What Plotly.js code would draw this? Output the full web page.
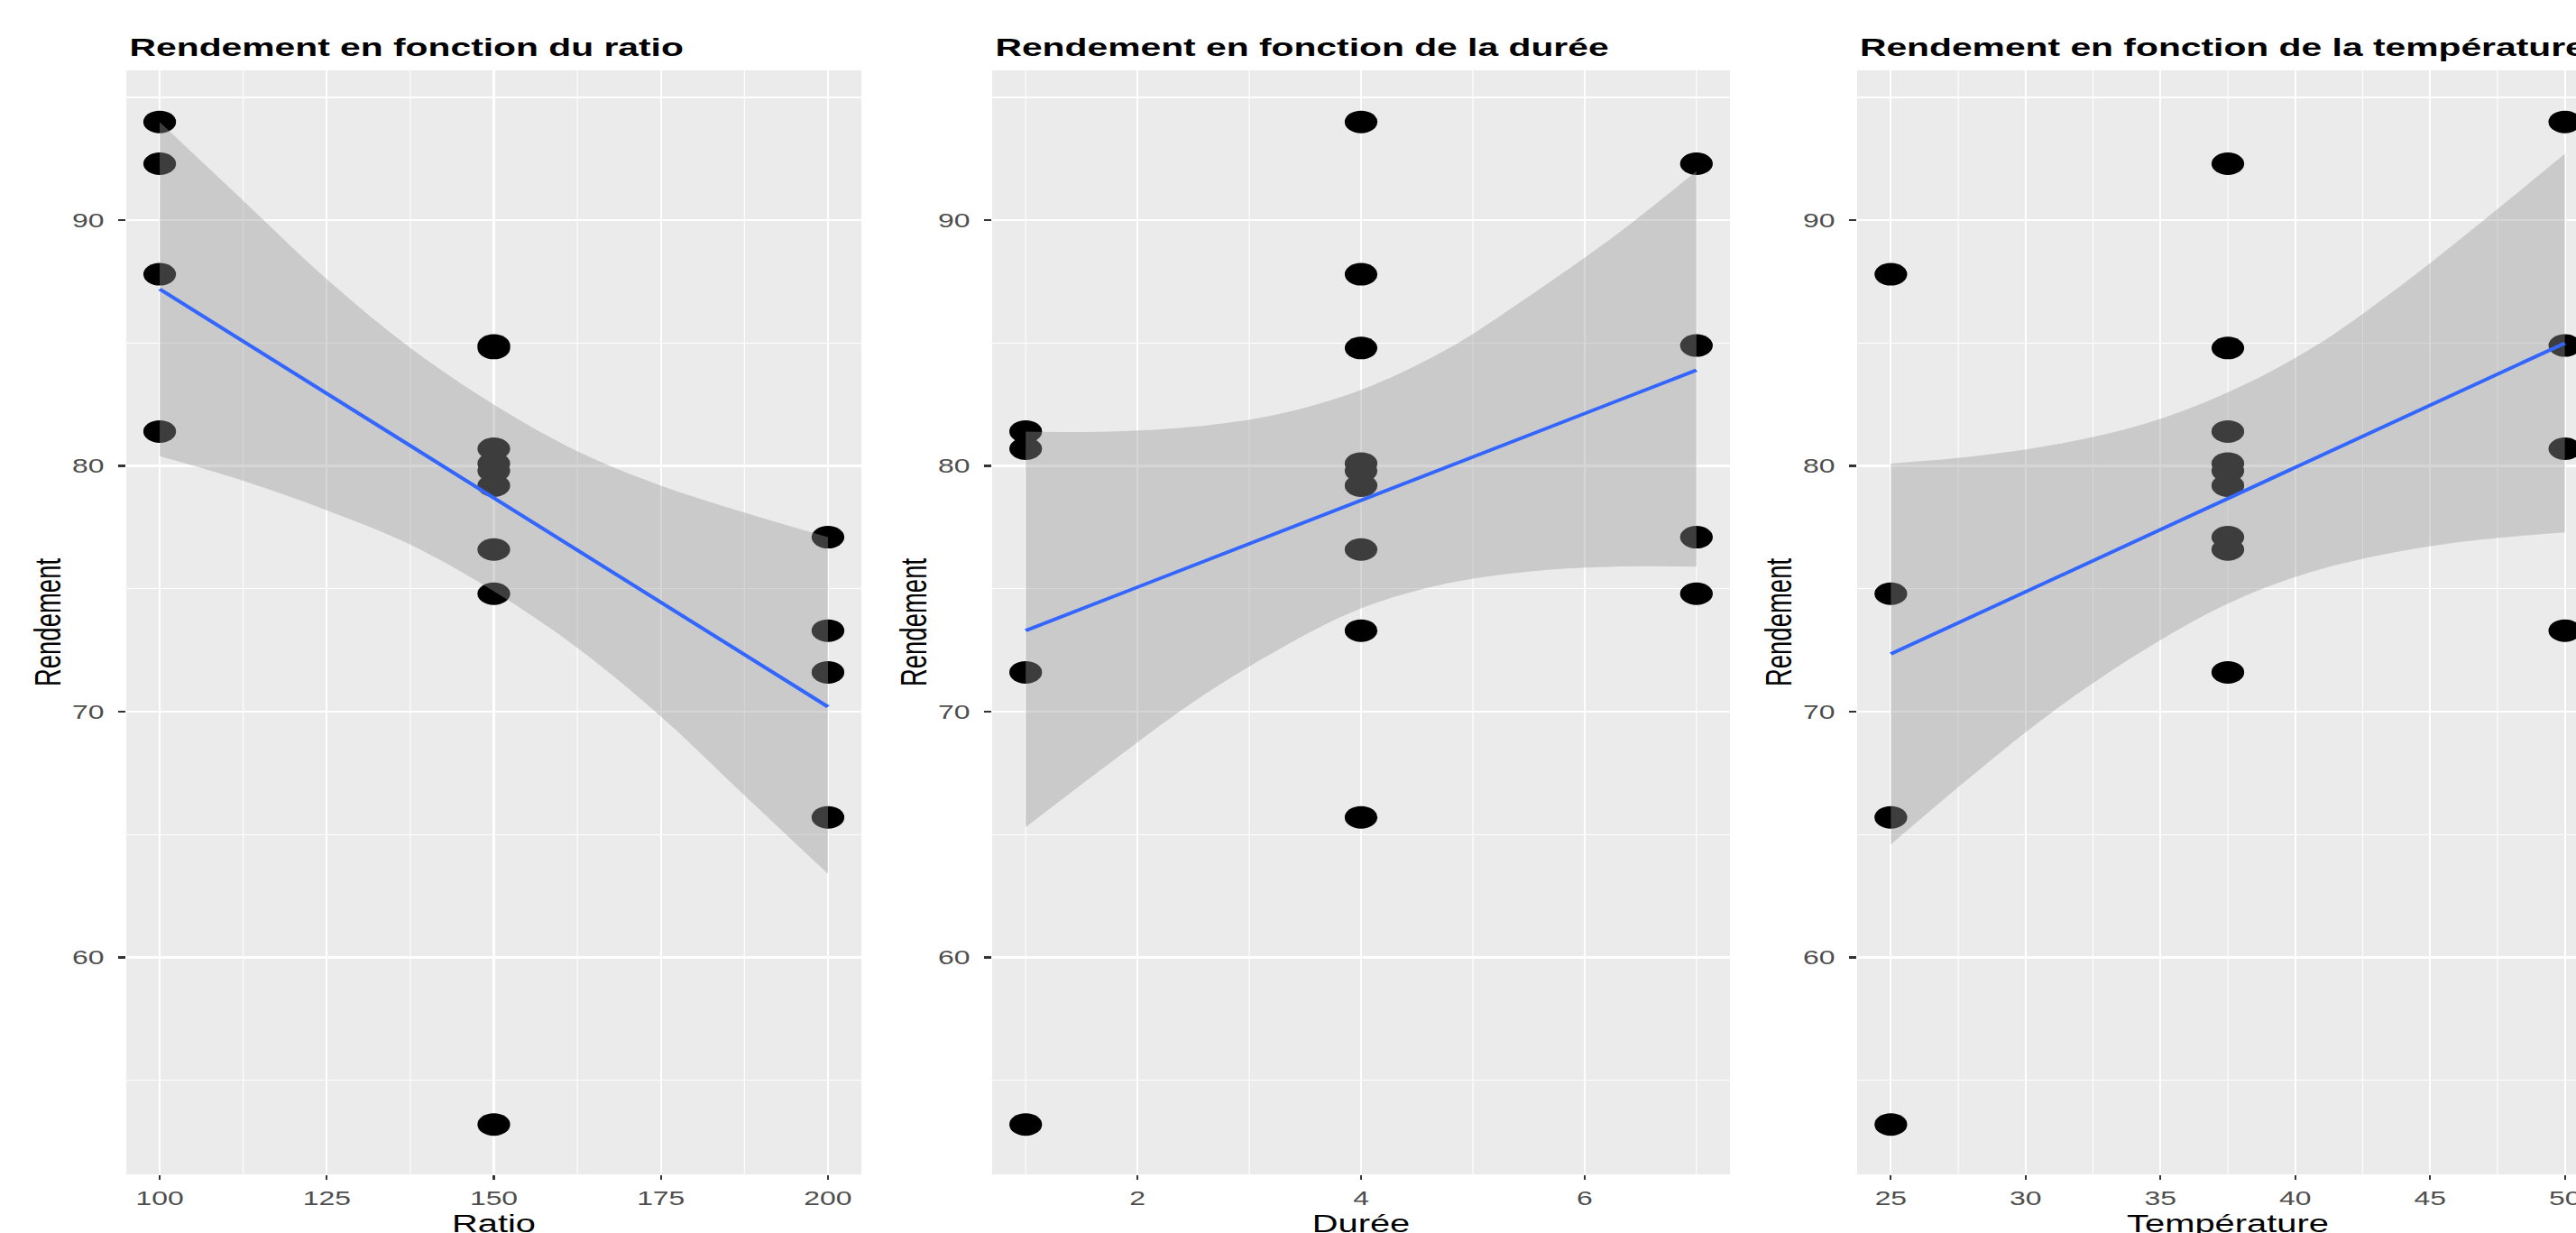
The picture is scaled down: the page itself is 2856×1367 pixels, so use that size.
<!DOCTYPE html>
<html>
<head>
<meta charset="utf-8">
<script src="https://cdn.plot.ly/plotly-3.0.1.min.js"></script>
<style>
html, body { margin:0; padding:0; overflow:hidden; background:#ffffff; width:2856px; height:1367px; }
#chart { width:1997px; height:1390px; transform:scaleX(1.45); transform-origin:0 0; }
</style>
</head>
<body>
<div id="chart"></div>
<script>
// ---- data ----
const ratio       = [100, 100, 100, 100, 150, 150, 150, 150, 150, 150, 150, 150, 150, 200, 200, 200, 200];
const duree       = [4, 7, 4, 1, 7, 4, 1, 4, 7, 1, 4, 4, 4, 7, 4, 1, 4];
const temperature = [50, 37.5, 25, 37.5, 50, 37.5, 50, 37.5, 25, 25, 37.5, 37.5, 37.5, 37.5, 50, 37.5, 25];
const rendement   = [94.0, 92.3, 87.8, 81.4, 84.9, 84.8, 80.7, 76.6, 74.8, 53.2, 80.1, 79.8, 79.2, 77.1, 73.3, 71.6, 65.7];

// fitted lines (end points)
const fitRatioX = [100, 200];
const fitRatioY = [87.2, 70.2];
const fitDureeX = [1, 7];
const fitDureeY = [73.3, 83.9];
const fitTempX  = [25, 50];
const fitTempY  = [72.35, 85.0];

// confidence bands
const bandRatioX     = [100, 112.5, 125, 137.5, 150, 162.5, 175, 187.5, 200];
const bandRatioUpper = [94.0, 90.8, 87.6, 84.8, 82.5, 80.6, 79.2, 78.1, 77.1];
const bandRatioLower = [80.4, 79.4, 78.2, 76.8, 74.9, 72.6, 69.8, 66.6, 63.4];

const bandDureeX     = [1, 1.75, 2.5, 3.25, 4, 4.75, 5.5, 6.25, 7];
const bandDureeUpper = [81.4, 81.4, 81.6, 82.1, 83.1, 84.7, 86.9, 89.3, 92.0];
const bandDureeLower = [65.3, 67.9, 70.4, 72.5, 74.2, 75.2, 75.7, 75.9, 75.9];

const bandTempX      = [25, 28.125, 31.25, 34.375, 37.5, 40.625, 43.75, 46.875, 50];
const bandTempUpper  = [80.1, 80.4, 80.9, 81.7, 83.0, 84.8, 87.2, 89.9, 92.7];
const bandTempLower  = [64.6, 67.5, 70.2, 72.5, 74.4, 75.7, 76.5, 77.0, 77.3];

const panelTitles = ['Rendement en fonction du ratio', 'Rendement en fonction de la durée', 'Rendement en fonction de la température'];
const xTitles = ['Ratio', 'Durée', 'Température'];
const yTitle = 'Rendement';

// ---- styling ----
const FONT = '"Liberation Sans", Arial, sans-serif';
const PANEL_BG = '#EBEBEB';
const BAND_FILL = 'rgba(153,153,153,0.4)';
const LINE_BLUE = '#3366FF';

const panels = [
  {x: ratio, bx: bandRatioX, bu: bandRatioUpper, bl: bandRatioLower, fx: fitRatioX, fy: fitRatioY,
   range: [95, 205], dtick: 25, minor: 12.5, dom: [140/2895.65, 955/2895.65]},
  {x: duree, bx: bandDureeX, bu: bandDureeUpper, bl: bandDureeLower, fx: fitDureeX, fy: fitDureeY,
   range: [0.7, 7.3], dtick: 2, minor: 1, dom: [1100/2895.65, 1918/2895.65]},
  {x: temperature, bx: bandTempX, bu: bandTempUpper, bl: bandTempLower, fx: fitTempX, fy: fitTempY,
   range: [23.75, 51.25], dtick: 5, minor: 2.5, dom: [2059/2895.65, 2881/2895.65]}
];

const H = 1390;
const yDomain = [(H - 1302) / H, (H - 78) / H];

const traces = [];
const layout = {
  width: 1997, height: H,
  margin: {l: 0, r: 0, t: 0, b: 0, pad: 0},
  paper_bgcolor: '#FFFFFF',
  plot_bgcolor: PANEL_BG,
  showlegend: false,
  font: {family: FONT, color: '#000000'},
  annotations: []
};

panels.forEach((p, i) => {
  const k = i === 0 ? '' : String(i + 1);
  const xa = 'x' + k, ya = 'y' + k;
  traces.push({type: 'scatter', mode: 'markers', x: p.x, y: rendement, xaxis: xa, yaxis: ya,
    marker: {color: '#000000', size: 25, line: {width: 0}}, hoverinfo: 'skip'});
  traces.push({type: 'scatter', mode: 'lines', x: p.bx, y: p.bu, xaxis: xa, yaxis: ya,
    line: {width: 0, shape: 'spline'}, hoverinfo: 'skip'});
  traces.push({type: 'scatter', mode: 'lines', x: p.bx, y: p.bl, xaxis: xa, yaxis: ya,
    line: {width: 0, shape: 'spline'}, fill: 'tonexty', fillcolor: BAND_FILL, hoverinfo: 'skip'});
  traces.push({type: 'scatter', mode: 'lines', x: p.fx, y: p.fy, xaxis: xa, yaxis: ya,
    line: {color: LINE_BLUE, width: 3.6}, hoverinfo: 'skip'});

  layout['xaxis' + k] = {
    domain: p.dom, anchor: ya, range: p.range, automargin: false,
    tickmode: 'linear', tick0: 0, dtick: p.dtick,
    showgrid: true, gridcolor: '#FFFFFF', gridwidth: 1.5,
    minor: {dtick: p.minor, tick0: 0, showgrid: true, gridcolor: '#FFFFFF', gridwidth: 0.75, ticks: ''},
    zeroline: false, showline: false,
    ticks: 'outside', ticklen: 5, tickwidth: 1.5, tickcolor: '#333333',
    ticklabelstandoff: 2,
    tickfont: {family: FONT, size: 22, color: '#4D4D4D'},
    title: {text: xTitles[i], font: {family: FONT, size: 27.5, color: '#000000'}, standoff: 6}
  };
  layout['yaxis' + k] = {
    domain: yDomain, anchor: xa, range: [51.17, 96.1], automargin: false,
    tickmode: 'linear', tick0: 0, dtick: 10,
    showgrid: true, gridcolor: '#FFFFFF', gridwidth: 2.2,
    minor: {dtick: 5, tick0: 0, showgrid: true, gridcolor: '#FFFFFF', gridwidth: 1.1, ticks: ''},
    zeroline: false, showline: false,
    ticks: 'outside', ticklen: 5.5, tickwidth: 2.2, tickcolor: '#333333',
    ticklabelstandoff: 6,
    tickfont: {family: FONT, size: 22, color: '#4D4D4D'},
    title: {text: yTitle, font: {family: FONT, size: 27.5, color: '#000000'}, standoff: 0}
  };
  layout.annotations.push({
    text: panelTitles[i], showarrow: false,
    xref: xa + ' domain', yref: ya + ' domain', x: 0, y: 1,
    xanchor: 'left', yanchor: 'bottom', yshift: 8,
    font: {family: FONT, size: 28.15, color: '#000000', weight: 'bold'}
  });
});

Plotly.newPlot('chart', traces, layout, {staticPlot: true, displayModeBar: false});
</script>
</body>
</html>
